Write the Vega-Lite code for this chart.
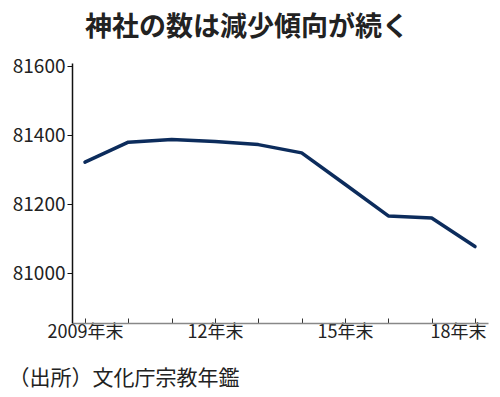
{
  "$schema": "https://vega.github.io/schema/vega-lite/v6.json",
  "width": 416,
  "height": 260,
  "autosize": "none",
  "padding": {"left": 72, "top": 63, "right": 12, "bottom": 74},
  "background": "white",
  "title": {
    "text": "神社の数は減少傾向が続く",
    "anchor": "middle",
    "frame": "group",
    "dx": -33,
    "offset": 15,
    "font": "Noto Sans CJK JP",
    "fontSize": 27,
    "fontWeight": "bold",
    "color": "#222222"
  },
  "config": {"view": {"stroke": null}},
  "data": {
    "values": [
      {"year": 2009, "count": 81322},
      {"year": 2010, "count": 81380},
      {"year": 2011, "count": 81388},
      {"year": 2012, "count": 81382},
      {"year": 2013, "count": 81373},
      {"year": 2014, "count": 81349},
      {"year": 2015, "count": 81258},
      {"year": 2016, "count": 81166},
      {"year": 2017, "count": 81160},
      {"year": 2018, "count": 81077}
    ]
  },
  "mark": {"type": "line", "color": "#0c2c5c", "strokeWidth": 3.5, "strokeCap": "round", "strokeJoin": "round"},
  "encoding": {
    "x": {
      "field": "year",
      "type": "quantitative",
      "scale": {"domain": [2008.7, 2018.3], "nice": false, "zero": false},
      "axis": {
        "values": [2009, 2010, 2011, 2012, 2013, 2014, 2015, 2016, 2017, 2018],
        "labelExpr": "datum.value == 2009 ? '2009年末' : ((datum.value - 2009) % 3 == 0 ? (datum.value % 100) + '年末' : '')",
        "grid": false,
        "domainColor": "#888888",
        "domainWidth": 1.5,
        "tickColor": "#333333",
        "tickSize": -5,
        "labelPadding": 5,
        "labelOffset": {"condition": {"test": "datum.value == 2018", "value": -17}, "value": 0},
        "labelFont": "Noto Sans CJK JP",
        "labelFontSize": 18,
        "labelColor": "#222222",
        "labelOverlap": false,
        "labelFlush": false,
        "title": "（出所）文化庁宗教年鑑",
        "titleFont": "Noto Sans CJK JP",
        "titleFontSize": 21,
        "titleFontWeight": "normal",
        "titleColor": "#222222",
        "titleAlign": "left",
        "titleAnchor": "start",
        "titleBaseline": "middle",
        "titleX": -64,
        "titleY": 55
      }
    },
    "y": {
      "field": "count",
      "type": "quantitative",
      "scale": {"domain": [80855, 81610], "nice": false, "zero": false},
      "axis": {
        "values": [81000, 81200, 81400, 81600],
        "format": "d",
        "grid": false,
        "domainColor": "#111111",
        "domainWidth": 1.5,
        "tickColor": "#111111",
        "tickSize": 5,
        "labelPadding": 2,
        "labelFont": "Noto Sans CJK JP",
        "labelFontSize": 19,
        "labelColor": "#222222",
        "title": null
      }
    }
  }
}
